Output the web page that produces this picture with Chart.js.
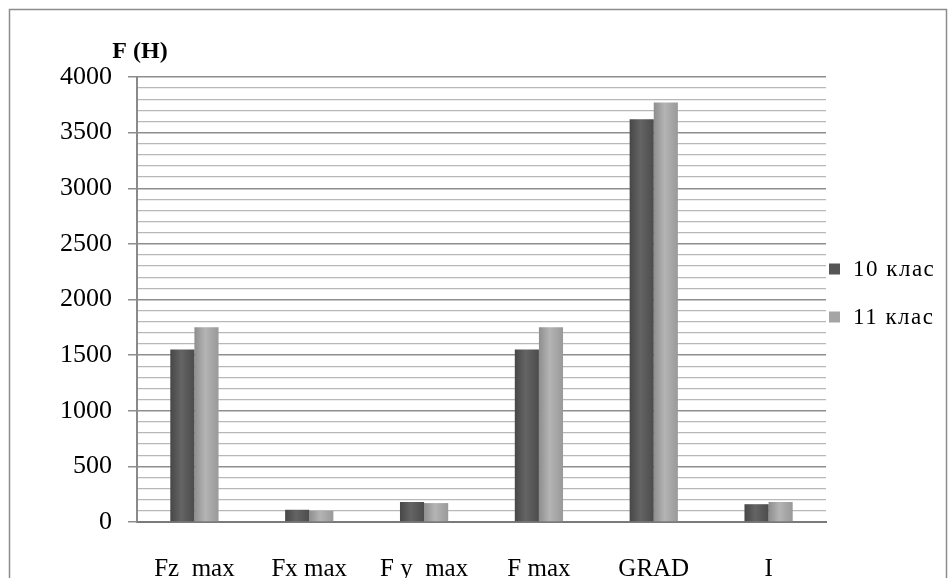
<!DOCTYPE html>
<html>
<head>
<meta charset="utf-8">
<script src="https://cdn.jsdelivr.net/npm/chart.js@4/dist/chart.umd.min.js"></script>
<style>
  html, body { margin: 0; padding: 0; background: #fff; overflow: hidden; }
  #wrap { position: relative; width: 949px; height: 578px; }
</style>
</head>
<body>
<div id="wrap"><canvas id="forceChart"></canvas></div>
<script>
// categories + series
const categories = ["Fz  max", "Fx max", "F y  max", "F max", "GRAD", "I"];
const klas10 = [1550, 110, 180, 1550, 3620, 160];
const klas11 = [1750, 100, 170, 1750, 3770, 180];
const seriesNames = ["10 клас", "11 клас"];
const yTitle = "F (H)";

const FONT = "'Liberation Serif', 'Times New Roman', serif";

/* ==============================
   BAR GRADIENT (cylinder look)
============================== */
function barGradient(dark) {
  return function (ctx) {
    const chart = ctx.chart;
    const xs = chart.scales.x;
    if (!xs || !chart.chartArea) return dark ? "#555" : "#a5a5a5";
    const catW = xs.width / categories.length;
    const bw = catW * 0.42 / 2;
    const center = xs.getPixelForValue(ctx.dataIndex);
    const x0 = dark ? center - bw : center;
    const g = chart.ctx.createLinearGradient(x0, 0, x0 + bw, 0);
    if (dark) {
      g.addColorStop(0, "#474747");
      g.addColorStop(0.45, "#646464");
      g.addColorStop(1, "#4c4c4c");
    } else {
      g.addColorStop(0, "#8e8e8e");
      g.addColorStop(0.45, "#b4b4b4");
      g.addColorStop(1, "#999999");
    }
    return g;
  };
}
const legendColors = ["#555555", "#a5a5a5"];

/* ==============================
   FRAME + AXIS TITLE + LEGEND
============================== */
const framePlugin = {
  id: "frame",
  beforeDraw(chart) {
    const c = chart.ctx;
    c.save();
    c.strokeStyle = "#8c8c8c";
    c.lineWidth = 1.5;
    c.strokeRect(9.5, 9.5, 937, 600);
    c.restore();
  },
  afterDraw(chart) {
    const c = chart.ctx;
    const a = chart.chartArea;
    c.save();
    c.font = "bold 24px " + FONT;
    c.fillStyle = "#000";
    c.textAlign = "center";
    c.textBaseline = "middle";
    c.fillText(yTitle, a.left + 3, a.top - 25);

    // legend on the right
    const mid = (a.top + a.bottom) / 2 - 6;
    c.font = "23px " + FONT;
    c.textAlign = "left";
    if ("letterSpacing" in c) c.letterSpacing = "1.5px";
    seriesNames.forEach((name, i) => {
      const y = mid + (i - 0.5) * 48;
      c.fillStyle = legendColors[i];
      c.fillRect(a.right + 3, y - 6, 11, 11);
      c.fillStyle = "#000";
      c.fillText(name, a.right + 27, y);
    });
    c.restore();
  }
};

const ctx = document.getElementById("forceChart").getContext("2d");
new Chart(ctx, {
  type: "bar",
  data: {
    labels: categories,
    datasets: [
      { label: seriesNames[0], data: klas10, backgroundColor: barGradient(true), borderWidth: 0 },
      { label: seriesNames[1], data: klas11, backgroundColor: barGradient(false), borderWidth: 0 }
    ]
  },
  options: {
    responsive: true,
    maintainAspectRatio: false,
    animation: false,
    layout: { padding: { top: 77, left: 44, right: 123, bottom: -38 } },
    datasets: { bar: { categoryPercentage: 0.42, barPercentage: 1.0 } },
    plugins: {
      tooltip: { enabled: false },
      legend: { display: false }
    },
    scales: {
      x: {
        grid: { display: false, drawTicks: false },
        border: { color: "#7a7a7a", width: 2 },
        ticks: { color: "#000", font: { family: FONT, size: 25 }, padding: 32 }
      },
      y: {
        min: 0,
        max: 4000,
        border: { color: "#8a8a8a", width: 2 },
        grid: {
          color: (c) => (c.tick && c.tick.value % 500 === 0 ? "#8e8e8e" : "#b8b8b8"),
          lineWidth: (c) => (c.tick && c.tick.value % 500 === 0 ? 1.5 : 1.3),
          tickColor: (c) => (c.tick && c.tick.value % 500 === 0 ? "#8e8e8e" : "rgba(0,0,0,0)"),
          tickLength: 9
        },
        ticks: {
          stepSize: 100,
          autoSkip: false,
          color: "#000",
          padding: 16,
          font: { family: FONT, size: 26 },
          callback: (v) => (v % 500 === 0 ? v : "")
        }
      }
    }
  },
  plugins: [framePlugin]
});
</script>
</body>
</html>
